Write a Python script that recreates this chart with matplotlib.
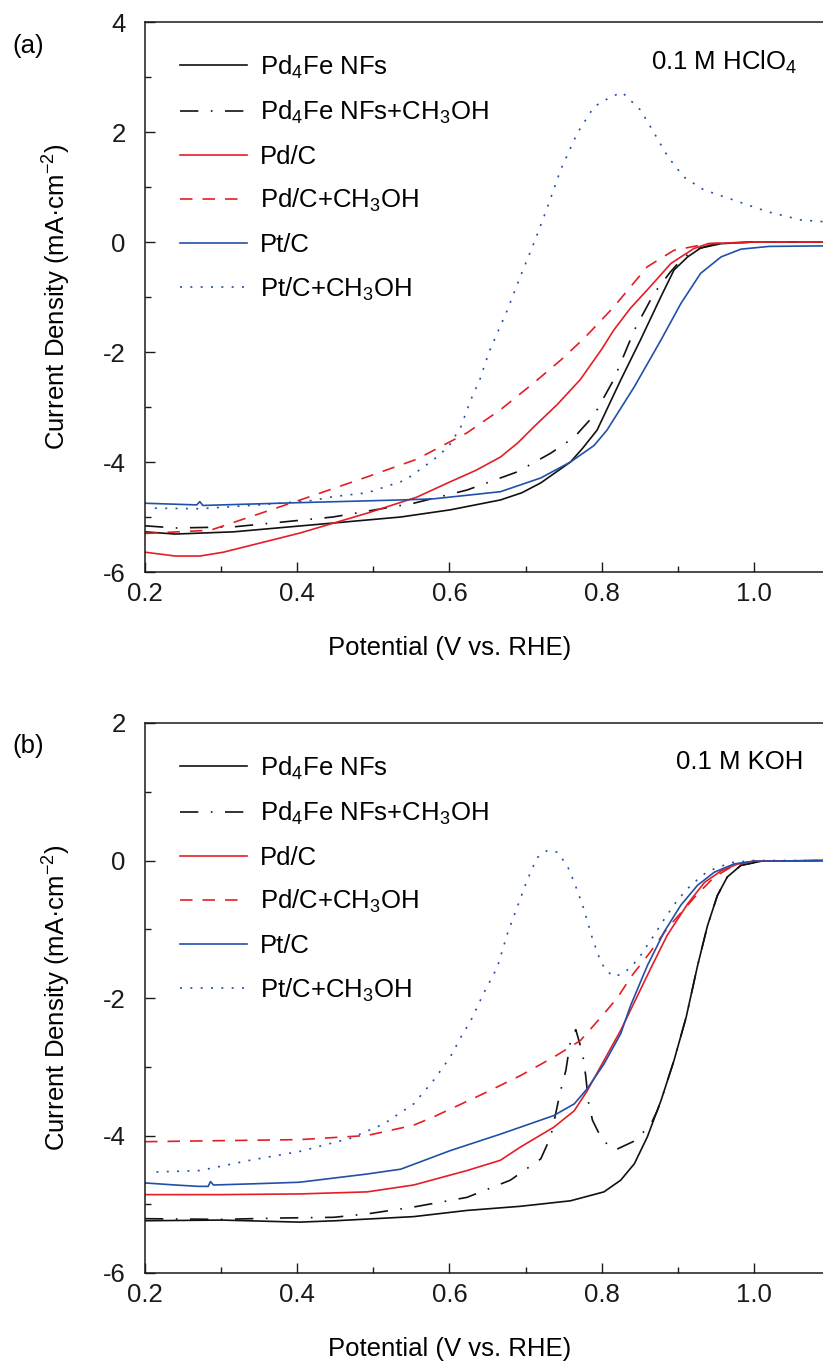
import matplotlib
matplotlib.use("Agg")
import matplotlib.pyplot as plt

plt.rcParams['font.family'] = ['Liberation Sans', 'DejaVu Sans']
plt.rcParams['mathtext.fontset'] = 'custom'
plt.rcParams['mathtext.rm'] = 'Liberation Sans'
plt.rcParams['mathtext.it'] = 'Liberation Sans:italic'
plt.rcParams['mathtext.default'] = 'regular'
plt.rcParams['axes.unicode_minus'] = False

# ---------------- data: panel (a) 0.1 M HClO4 ----------------
pd4fe_a_v = [0.20, 0.24, 0.316, 0.447, 0.536, 0.601, 0.667, 0.695, 0.72, 0.759, 0.775, 0.794, 0.825, 0.851, 0.878, 0.895, 0.913, 0.93, 0.957, 1.0, 1.1]
pd4fe_a_j = [-5.27, -5.31, -5.27, -5.11, -5.0, -4.87, -4.69, -4.56, -4.38, -4.0, -3.75, -3.42, -2.51, -1.78, -0.99, -0.51, -0.27, -0.11, -0.03, 0.0, 0.0]

pd4fe_meoh_a_v = [0.20, 0.24, 0.316, 0.447, 0.553, 0.623, 0.689, 0.733, 0.764, 0.79, 0.816, 0.843, 0.869, 0.89, 0.904, 0.92, 0.95, 1.0, 1.1]
pd4fe_meoh_a_j = [-5.16, -5.2, -5.18, -5.0, -4.75, -4.51, -4.18, -3.84, -3.55, -3.15, -2.5, -1.6, -0.93, -0.55, -0.33, -0.15, -0.03, 0.0, 0.0]

pdc_a_v = [0.20, 0.24, 0.272, 0.303, 0.404, 0.492, 0.557, 0.601, 0.635, 0.667, 0.69, 0.711, 0.742, 0.772, 0.8, 0.816, 0.838, 0.86, 0.891, 0.921, 0.94, 1.0, 1.1]
pdc_a_j = [-5.64, -5.71, -5.71, -5.64, -5.29, -4.93, -4.64, -4.36, -4.15, -3.91, -3.65, -3.36, -2.95, -2.5, -1.95, -1.6, -1.2, -0.87, -0.39, -0.12, -0.03, 0.0, 0.0]

pdc_meoh_a_v = [0.20, 0.286, 0.404, 0.492, 0.557, 0.623, 0.667, 0.711, 0.746, 0.777, 0.816, 0.84, 0.86, 0.895, 0.94, 1.0, 1.1]
pdc_meoh_a_j = [-5.3, -5.24, -4.69, -4.27, -3.95, -3.47, -3.05, -2.56, -2.15, -1.75, -1.18, -0.78, -0.45, -0.15, -0.03, 0.0, 0.0]

ptc_a_v = [0.20, 0.268, 0.272, 0.276, 0.4, 0.536, 0.579, 0.667, 0.72, 0.759, 0.79, 0.807, 0.843, 0.878, 0.904, 0.93, 0.957, 0.983, 1.02, 1.1]
ptc_a_j = [-4.75, -4.78, -4.72, -4.79, -4.74, -4.69, -4.67, -4.54, -4.29, -4.0, -3.7, -3.42, -2.63, -1.78, -1.12, -0.57, -0.27, -0.13, -0.08, -0.07]

ptc_meoh_a_v = [0.213, 0.272, 0.35, 0.42, 0.447, 0.492, 0.542, 0.579, 0.599, 0.615, 0.628, 0.64, 0.652, 0.676, 0.693, 0.711, 0.729, 0.746, 0.768, 0.79, 0.812, 0.827, 0.851, 0.869, 0.887, 0.908, 0.934, 0.974, 1.018, 1.062, 1.1]
ptc_meoh_a_j = [-4.84, -4.85, -4.78, -4.70, -4.63, -4.56, -4.33, -3.96, -3.72, -3.36, -2.87, -2.5, -2.0, -1.24, -0.63, -0.02, 0.64, 1.31, 1.98, 2.46, 2.64, 2.72, 2.40, 1.98, 1.55, 1.18, 0.95, 0.76, 0.55, 0.40, 0.36]

# ---------------- data: panel (b) 0.1 M KOH ----------------
pd4fe_b_v = [0.2, 0.3, 0.403, 0.45, 0.553, 0.623, 0.693, 0.759, 0.803, 0.825, 0.843, 0.86, 0.878, 0.895, 0.911, 0.926, 0.939, 0.952, 0.965, 0.983, 1.01, 1.1]
pd4fe_b_j = [-5.24, -5.23, -5.26, -5.24, -5.18, -5.09, -5.03, -4.95, -4.82, -4.65, -4.41, -4.02, -3.49, -2.91, -2.28, -1.53, -0.95, -0.51, -0.24, -0.07, -0.01, 0.0]

pd4fe_meoh_b_v = [0.2, 0.3, 0.38, 0.448, 0.492, 0.553, 0.623, 0.68, 0.72, 0.733, 0.746, 0.753, 0.759, 0.766, 0.775, 0.779, 0.783, 0.788, 0.801, 0.818, 0.843, 0.864, 0.873, 0.878, 0.895, 0.911, 0.926, 0.939, 0.952, 0.965, 0.983, 1.01, 1.1]
pd4fe_meoh_b_j = [-5.21, -5.22, -5.2, -5.19, -5.14, -5.04, -4.9, -4.65, -4.34, -4.02, -3.35, -3.05, -2.62, -2.46, -2.81, -3.13, -3.54, -3.78, -4.07, -4.21, -4.08, -3.85, -3.64, -3.49, -2.91, -2.28, -1.53, -0.95, -0.51, -0.24, -0.07, -0.01, 0.0]

pdc_b_v = [0.2, 0.3, 0.403, 0.492, 0.553, 0.623, 0.667, 0.693, 0.737, 0.764, 0.781, 0.803, 0.825, 0.843, 0.864, 0.886, 0.913, 0.935, 0.957, 0.979, 1.0, 1.1]
pdc_b_j = [-4.86, -4.86, -4.85, -4.82, -4.72, -4.51, -4.36, -4.17, -3.88, -3.64, -3.35, -2.91, -2.47, -2.06, -1.58, -1.09, -0.63, -0.32, -0.15, -0.05, -0.01, 0.0]

pdc_meoh_b_v = [0.2, 0.403, 0.492, 0.553, 0.579, 0.645, 0.693, 0.737, 0.772, 0.803, 0.821, 0.84, 0.862, 0.886, 0.924, 0.948, 0.974, 1.0, 1.1]
pdc_meoh_b_j = [-4.09, -4.06, -4.0, -3.85, -3.73, -3.39, -3.13, -2.86, -2.62, -2.23, -1.99, -1.67, -1.36, -0.99, -0.51, -0.24, -0.07, -0.01, 0.0]

ptc_b_v = [0.2, 0.24, 0.27, 0.283, 0.286, 0.29, 0.35, 0.403, 0.492, 0.536, 0.601, 0.667, 0.693, 0.737, 0.764, 0.781, 0.803, 0.825, 0.838, 0.86, 0.882, 0.904, 0.926, 0.948, 0.974, 1.0, 1.1]
ptc_b_j = [-4.69, -4.72, -4.74, -4.74, -4.67, -4.72, -4.70, -4.68, -4.56, -4.49, -4.22, -3.98, -3.88, -3.71, -3.54, -3.32, -2.96, -2.52, -2.11, -1.53, -1.04, -0.65, -0.36, -0.17, -0.05, -0.01, 0.0]

ptc_meoh_b_v = [0.215, 0.272, 0.338, 0.404, 0.47, 0.514, 0.553, 0.579, 0.601, 0.615, 0.628, 0.645, 0.663, 0.676, 0.689, 0.702, 0.715, 0.729, 0.742, 0.755, 0.764, 0.775, 0.788, 0.798, 0.805, 0.816, 0.829, 0.84, 0.85, 0.868, 0.883, 0.9, 0.918, 0.939, 0.97, 1.0, 1.1]
ptc_meoh_b_j = [-4.53, -4.51, -4.36, -4.23, -4.04, -3.83, -3.54, -3.2, -2.86, -2.57, -2.33, -1.93, -1.55, -1.07, -0.68, -0.29, 0.04, 0.15, 0.12, -0.08, -0.32, -0.65, -1.14, -1.45, -1.59, -1.69, -1.64, -1.53, -1.4, -1.1, -0.84, -0.57, -0.35, -0.16, -0.03, 0.0, 0.0]

labels = ['Pd$_4$Fe NFs', 'Pd$_4$Fe NFs+CH$_3$OH', 'Pd/C', 'Pd/C+CH$_3$OH', 'Pt/C', 'Pt/C+CH$_3$OH']
x_ticks = [0.2, 0.4, 0.6, 0.8, 1.0]
x_tick_labels = ['0.2', '0.4', '0.6', '0.8', '1.0']

BLACK = '#111111'
RED = '#e41e26'
BLUE = '#2150a8'
LW = 1.2
styles = [
    dict(color=BLACK, ls='-'),
    dict(color=BLACK, ls=(0, (11, 7.5, 1.0, 7.5))),
    dict(color=RED, ls='-'),
    dict(color=RED, ls=(0, (7.5, 6))),
    dict(color=BLUE, ls='-'),
    dict(color=BLUE, ls=(0, (1.2, 5.0))),
]

W, H = 823, 1363
fig = plt.figure(figsize=(W / 100, H / 100), dpi=100)
FS = 18.5


def make_panel(top_px, series, ylim, yticks, yminor, note, note_xy, tag, tag_y):
    ax = fig.add_axes([145 / W, 1 - (top_px + 550) / H, 685 / W, 550 / H])
    for (v, j), lab, st in zip(series, labels, styles):
        ax.plot(v, j, lw=LW, label=lab, **st)
    ax.set_xlim(0.2, 1.1)
    ax.set_ylim(*ylim)
    ax.set_xticks(x_ticks)
    ax.set_xticklabels(x_tick_labels)
    ax.set_xticks([0.3, 0.5, 0.7, 0.9], minor=True)
    ax.set_yticks(yticks)
    ax.set_yticklabels([str(t) for t in yticks])
    ax.set_yticks(yminor, minor=True)
    ax.tick_params(which='both', direction='in', width=1.0, labelsize=FS, colors='#1a1a1a')
    ax.tick_params(which='major', length=7.5)
    ax.tick_params(which='minor', length=4.5)
    ax.tick_params(axis='x', which='major', pad=7.0)
    ax.tick_params(axis='y', which='major', pad=14)
    ax.tick_params(top=False, right=False, which='both')
    for s in ax.spines.values():
        s.set_linewidth(1.1)
        s.set_color('#1a1a1a')
    ax.legend(loc='upper left', bbox_to_anchor=(0.051, 0.943), frameon=False,
              fontsize=FS, handlelength=2.6, handletextpad=0.5,
              labelspacing=0.72, borderpad=0, borderaxespad=0)
    ax.text(note_xy[0], note_xy[1], note, transform=ax.transAxes, ha='right', va='center', fontsize=FS)
    fig.text(450 / W, 1 - (top_px + 626) / H, 'Potential (V vs. RHE)', ha='center', va='center', fontsize=FS)
    fig.text(57 / W, 1 - (top_px + 275) / H, 'Current Density (mA\u00b7cm$^{-2}$)', ha='center', va='center',
             rotation=90, fontsize=FS)
    fig.text(12 / W, 1 - tag_y / H, tag, ha='left', va='center', fontsize=FS)
    return ax


series_a = [(pd4fe_a_v, pd4fe_a_j), (pd4fe_meoh_a_v, pd4fe_meoh_a_j), (pdc_a_v, pdc_a_j),
            (pdc_meoh_a_v, pdc_meoh_a_j), (ptc_a_v, ptc_a_j), (ptc_meoh_a_v, ptc_meoh_a_j)]
series_b = [(pd4fe_b_v, pd4fe_b_j), (pd4fe_meoh_b_v, pd4fe_meoh_b_j), (pdc_b_v, pdc_b_j),
            (pdc_meoh_b_v, pdc_meoh_b_j), (ptc_b_v, ptc_b_j), (ptc_meoh_b_v, ptc_meoh_b_j)]

make_panel(22, series_a, (-6, 4), [-6, -4, -2, 0, 2, 4], [-5, -3, -1, 1, 3],
           '0.1 M HClO$_4$', (0.952, 0.927), '(a)', 46)
make_panel(723, series_b, (-6, 2), [-6, -4, -2, 0, 2], [-5, -3, -1, 1],
           '0.1 M KOH', (0.961, 0.929), '(b)', 746)

fig.savefig('out.png', dpi=100)
